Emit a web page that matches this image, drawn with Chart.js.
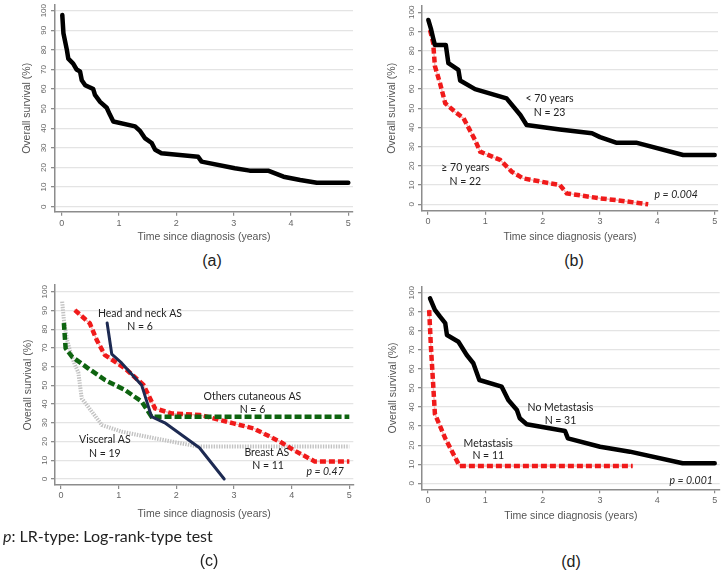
<!DOCTYPE html>
<html>
<head>
<meta charset="utf-8">
<script src="https://cdn.jsdelivr.net/npm/chart.js@4.4.1/dist/chart.umd.min.js"></script>
<style>
  html, body { margin: 0; padding: 0; background: #fff; }
  #wrap { position: relative; width: 726px; height: 576px; overflow: hidden; }
  .panel { position: absolute; }
  .panel canvas { display: block; }
  .lab { position: absolute; font-family: 'Liberation Sans', Arial, sans-serif; font-size: 16px; color: #222;
         transform: translate(-50%, -50%); white-space: nowrap; }
  .foot { position: absolute; left: 3px; top: 526px; font-family: Lato, 'Noto Sans', sans-serif;
          font-size: 16px; color: #222; white-space: nowrap; }
</style>
</head>
<body>
<div id="wrap">
  <div class="panel" style="left:0;top:0"><canvas id="chartA" width="363" height="248"></canvas></div>
  <div class="panel" style="left:363px;top:0"><canvas id="chartB" width="363" height="248"></canvas></div>
  <div class="panel" style="left:0;top:280px"><canvas id="chartC" width="363" height="250"></canvas></div>
  <div class="panel" style="left:363px;top:280px"><canvas id="chartD" width="363" height="250"></canvas></div>
  <div class="lab" style="left:212px;top:261px">(a)</div>
  <div class="lab" style="left:574px;top:261px">(b)</div>
  <div class="foot"><i>p</i>: LR-type: Log-rank-type test</div>
  <div class="lab" style="left:209px;top:561px">(c)</div>
  <div class="lab" style="left:571px;top:562px">(d)</div>
</div>
<script>
// ---- axes ----
const X_TICKS = [0, 1, 2, 3, 4, 5];
const Y_TICKS = [0, 10, 20, 30, 40, 50, 60, 70, 80, 90, 100];
const X_TITLE = 'Time since diagnosis (years)';
const Y_TITLE = 'Overall survival (%)';

// ---- (a) all patients ----
const A_TIME = [0.01, 0.03, 0.09, 0.115, 0.2, 0.26, 0.32, 0.35, 0.41, 0.55, 0.58, 0.67, 0.785, 0.84, 0.9,
                1.28, 1.37, 1.45, 1.57, 1.63, 1.74, 2.38, 2.44, 3.02, 3.28, 3.6, 3.87, 4.16, 4.45, 5.0];
const A_SURV = [97.8, 88.5, 80, 75.5, 73, 70, 69, 64.5, 62, 60, 57, 53.5, 50.5, 47, 43.5,
                41, 38.5, 35, 32.5, 29, 27.3, 25.5, 23, 19.6, 18.4, 18.4, 15.3, 13.6, 12.2, 12.2];

// ---- (b) by age ----
const B_YOUNG_TIME = [0.005, 0.05, 0.09, 0.12, 0.31, 0.355, 0.53, 0.56, 0.82, 1.37, 1.61, 1.72, 2.3, 2.86, 3.0, 3.28, 3.63, 4.45, 5.0];
const B_YOUNG_SURV = [96, 91.5, 86.5, 83, 83, 73.5, 70, 64.5, 60, 55.2, 46.5, 41.3, 39, 37, 35, 32.1, 32.1, 25.7, 25.7];
const B_OLD_TIME = [0.035, 0.09, 0.12, 0.21, 0.3, 0.47, 0.62, 0.82, 0.91, 1.26, 1.46, 1.66, 2.3, 2.42, 3.0, 3.28, 3.84];
const B_OLD_SURV = [90.8, 84, 72, 63, 52.6, 48.2, 44.8, 33.5, 27.4, 23.1, 17, 13.5, 10, 5.7, 3.1, 2.2, 0];

// ---- (c) by site ----
const C_VISC_TIME = [0.02, 0.05, 0.1, 0.16, 0.24, 0.3, 0.36, 0.47, 0.71, 1.05, 1.63, 2.38, 5.0];
const C_VISC_SURV = [94.7, 85, 75, 68, 61, 57, 43, 38.6, 28.8, 25.3, 21.7, 17.3, 17.3];
const C_OTHER_TIME = [0.05, 0.08, 0.19, 0.47, 0.76, 1.11, 1.4, 1.57, 5.0];
const C_OTHER_SURV = [83.3, 69.8, 65.3, 59.1, 52.9, 47.5, 41.3, 33.3, 33.3];
const C_BREAST_TIME = [0.24, 0.5, 0.62, 0.76, 1.11, 1.43, 1.63, 1.92, 2.41, 2.99, 3.34, 3.8, 4.03, 4.4, 5.0];
const C_BREAST_SURV = [90.2, 83.1, 74.2, 66.2, 59.1, 50.2, 37.7, 35, 34.2, 29.7, 27, 19.9, 15.5, 9.4, 9.4];
const C_HEAD_TIME = [0.8, 0.88, 1.05, 1.4, 1.57, 1.8, 2.4, 2.83];
const C_HEAD_SURV = [83.3, 66.7, 62, 50, 33.3, 30, 16.7, 0];

// ---- (d) by metastasis ----
const D_NOMET_TIME = [0.035, 0.12, 0.21, 0.3, 0.33, 0.53, 0.675, 0.79, 0.895, 1.285, 1.4, 1.55, 1.6, 1.72, 2.39, 2.44, 3.0, 3.52, 4.44, 5.0];
const D_NOMET_SURV = [97, 91, 87.4, 84, 77.8, 74.3, 67.3, 63, 54.2, 50.7, 43.7, 38.5, 34.1, 31, 27.4, 23.6, 19.2, 16.6, 10.5, 10.5];
const D_MET_TIME = [0.02, 0.05, 0.08, 0.12, 0.3, 0.55, 3.57];
const D_MET_SURV = [90.9, 72, 56.8, 36.4, 23.6, 9.1, 9.1];

// ---------------------------------------------------------------
const AXIS_FONT = "'Liberation Sans', Arial, sans-serif";
const NOTE_FONT = "Lato, 'Noto Sans', sans-serif";

function pts(ts, ss) {
    return ts.map((t, i) => ({ x: t, y: ss[i] }));
}

// line styles
function solid(color, w) {
    return { borderColor: color, borderWidth: w, borderJoinStyle: 'round', borderCapStyle: 'round' };
}
function dashed(color, w, dash) {
    return { borderColor: color, borderWidth: w, borderDash: dash, borderCapStyle: 'butt' };
}

function line(data, style, order) {
    return Object.assign({ data: data, pointRadius: 0, tension: 0, fill: false, order: order }, style);
}

// red Stata-like curve: thin pink line under red dashes
function redCurve(data) {
    return [
        line(data, solid('#f5bcbc', 1.5), 5),
        line(data, dashed('#f01a1a', 4.5, [6, 3]), 4)
    ];
}

function notesPlugin(items) {
    return {
        id: 'notes',
        afterDatasetsDraw(chart) {
            const { ctx, scales } = chart;
            items.forEach(n => {
                ctx.save();
                ctx.font = (n.italic ? 'italic ' : '') + '10.5px ' + NOTE_FONT;
                ctx.fillStyle = '#222';
                ctx.textAlign = 'center';
                ctx.textBaseline = 'middle';
                ctx.fillText(n.text, scales.x.getPixelForValue(n.x), scales.y.getPixelForValue(n.y));
                ctx.restore();
            });
        }
    };
}

function makeChart(id, datasets, f, notes) {
    const ctx = document.getElementById(id).getContext('2d');
    return new Chart(ctx, {
        type: 'line',
        data: { datasets: datasets },
        plugins: [notesPlugin(notes || [])],
        options: {
            responsive: false,
            animation: false,
            layout: { padding: { top: f.padTop, right: f.padRight, bottom: 0, left: 0 } },
            plugins: { legend: { display: false }, tooltip: { enabled: false } },
            scales: {
                x: {
                    type: 'linear',
                    min: f.xMin, max: f.xMax,
                    afterBuildTicks: s => { s.ticks = X_TICKS.map(v => ({ value: v })); },
                    afterFit: s => { s.height = f.xH; s.paddingLeft = 0; s.paddingRight = 0; },
                    grid: { drawOnChartArea: false, tickLength: 4, tickColor: '#8c8c8c', lineWidth: 1.2 },
                    border: { display: true, color: '#8c8c8c', width: 1.5 },
                    ticks: { padding: f.xTickPad, maxRotation: 0, color: '#666',
                             font: { family: AXIS_FONT, size: 9 } },
                    title: { display: true, text: X_TITLE, color: '#555',
                             font: { family: AXIS_FONT, size: 10.5 }, padding: { top: 0, bottom: f.xTitlePad } }
                },
                y: {
                    type: 'linear',
                    min: f.yMin, max: f.yMax,
                    afterBuildTicks: s => { s.ticks = Y_TICKS.map(v => ({ value: v })); },
                    afterFit: s => { s.width = f.yW; s.paddingTop = 0; s.paddingBottom = 0; },
                    grid: { color: '#e4e4e4', lineWidth: 1.3, tickLength: 4, tickColor: '#8c8c8c' },
                    border: { display: true, color: '#8c8c8c', width: 1.5 },
                    ticks: { padding: f.yTickPad, minRotation: 90, maxRotation: 90, crossAlign: 'center',
                             color: '#666', font: { family: AXIS_FONT, size: 8 } },
                    title: { display: true, text: Y_TITLE, color: '#555',
                             font: { family: AXIS_FONT, size: 10.5 }, padding: { top: f.yTitlePad, bottom: 0 } }
                }
            }
        }
    });
}

// (a)
makeChart('chartA', [
    line(pts(A_TIME, A_SURV), solid('#000', 4.5), 1)
], { padTop: 5, padRight: 10, yW: 55, xH: 36.3, xMin: -0.117, xMax: 5.082, yMin: -2.55, yMax: 102.9,
     xTickPad: 2.5, xTitlePad: 4.8, yTickPad: 1, yTitlePad: 20.7 });

// (b)
makeChart('chartB', [
    line(pts(B_YOUNG_TIME, B_YOUNG_SURV), solid('#000', 4.5), 1),
    ...redCurve(pts(B_OLD_TIME, B_OLD_SURV))
], { padTop: 6, padRight: 8, yW: 59, xH: 37.3, xMin: -0.105, xMax: 5.058, yMin: -3.33, yMax: 103.28,
     xTickPad: 1.5, xTitlePad: 4.5, yTickPad: 0, yTitlePad: 23 },
[
    { text: '< 70 years', x: 2.12, y: 54.8 },
    { text: 'N = 23', x: 2.12, y: 47.9 },
    { text: '\u2265 70 years', x: 0.65, y: 19.1 },
    { text: 'N = 22', x: 0.65, y: 11.8 },
    { text: 'p = 0.004', x: 4.33, y: 4.8, italic: true }
]);

// (c)
makeChart('chartC', [
    line(pts(C_VISC_TIME, C_VISC_SURV), dashed('#c2c2c2', 4, [1.4, 1.2]), 9),
    ...redCurve(pts(C_BREAST_TIME, C_BREAST_SURV)),
    line(pts(C_OTHER_TIME, C_OTHER_SURV), dashed('#0e6410', 4.5, [7, 3]), 3),
    line(pts(C_HEAD_TIME, C_HEAD_SURV), solid('#1d2a52', 3), 1)
], { padTop: 5, padRight: 9.7, yW: 55, xH: 45, xMin: -0.104, xMax: 5.069, yMin: -3.2, yMax: 103.58,
     xTickPad: 1.5, xTitlePad: 9.8, yTickPad: 0, yTitlePad: 22 },
[
    { text: 'Head and neck AS', x: 1.37, y: 88.5 },
    { text: 'N = 6', x: 1.37, y: 81.3 },
    { text: 'Others cutaneous AS', x: 3.32, y: 43.9 },
    { text: 'N = 6', x: 3.32, y: 37.1 },
    { text: 'Visceral AS', x: 0.76, y: 20.8 },
    { text: 'N = 19', x: 0.76, y: 13.7 },
    { text: 'Breast AS', x: 3.57, y: 14 },
    { text: 'N = 11', x: 3.59, y: 7.1 },
    { text: 'p = 0.47', x: 4.58, y: 3.9, italic: true }
]);

// (d)
makeChart('chartD', [
    line(pts(D_NOMET_TIME, D_NOMET_SURV), solid('#000', 4.5), 1),
    ...redCurve(pts(D_MET_TIME, D_MET_SURV))
], { padTop: 6.7, padRight: 6.3, yW: 59, xH: 40.7, xMin: -0.105, xMax: 5.087, yMin: -3.15, yMax: 103.15,
     xTickPad: 1.5, xTitlePad: 7.8, yTickPad: 0, yTitlePad: 23.8 },
[
    { text: 'No Metastasis', x: 2.31, y: 39.7 },
    { text: 'N = 31', x: 2.31, y: 32.9 },
    { text: 'Metastasis', x: 1.05, y: 21 },
    { text: 'N = 11', x: 1.05, y: 14.3 },
    { text: 'p = 0.001', x: 4.59, y: 1.2, italic: true }
]);
</script>
</body>
</html>
